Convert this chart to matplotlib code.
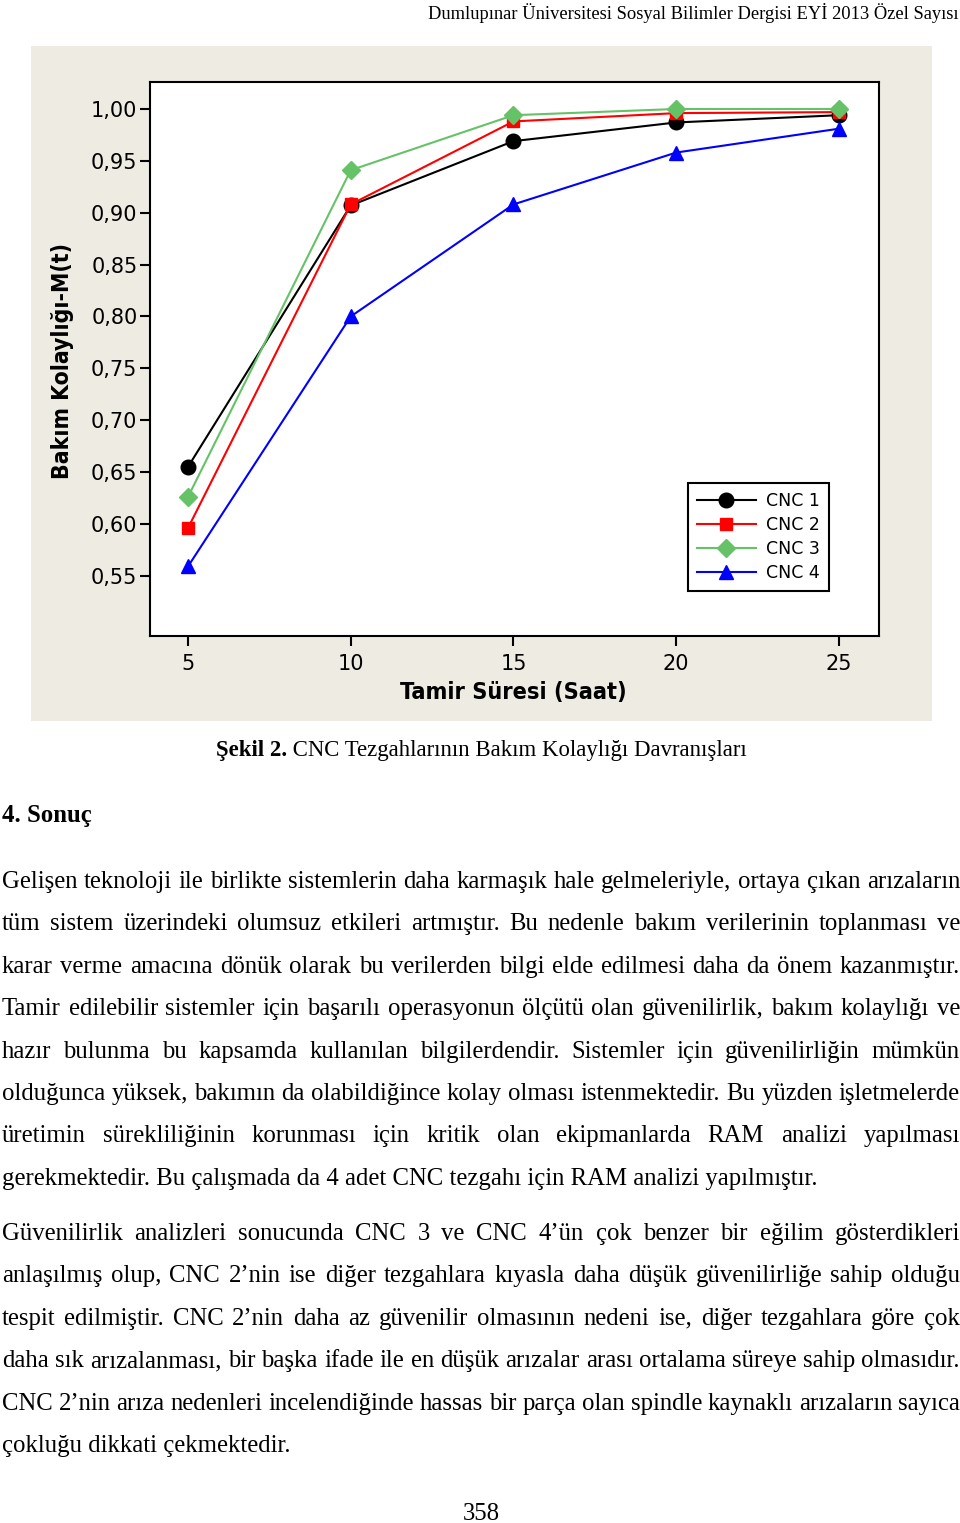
import matplotlib
matplotlib.use("Agg")
import matplotlib.pyplot as plt
from matplotlib.patches import Rectangle

# data
hours = [5, 10, 15, 20, 25]
cnc1 = [0.655, 0.907, 0.969, 0.987, 0.994]
cnc2 = [0.596, 0.908, 0.988, 0.996, 0.997]
cnc3 = [0.626, 0.941, 0.994, 1.000, 1.000]
cnc4 = [0.559, 0.800, 0.908, 0.958, 0.981]
series_names = ["CNC 1", "CNC 2", "CNC 3", "CNC 4"]
y_ticks = [0.55, 0.60, 0.65, 0.70, 0.75, 0.80, 0.85, 0.90, 0.95, 1.00]
x_ticks = [5, 10, 15, 20, 25]

header = "Dumlupınar Üniversitesi Sosyal Bilimler Dergisi EYİ 2013 Özel Sayısı"
caption_bold = "Şekil 2."
caption_rest = " CNC Tezgahlarının Bakım Kolaylığı Davranışları"
heading = "4. Sonuç"
para1 = [
    "Gelişen teknoloji ile birlikte sistemlerin daha karmaşık hale gelmeleriyle, ortaya çıkan arızaların",
    "tüm sistem üzerindeki olumsuz etkileri artmıştır. Bu nedenle bakım verilerinin toplanması ve",
    "karar verme amacına dönük olarak bu verilerden bilgi elde edilmesi daha da önem kazanmıştır.",
    "Tamir edilebilir sistemler için başarılı operasyonun ölçütü olan güvenilirlik, bakım kolaylığı ve",
    "hazır bulunma bu kapsamda kullanılan bilgilerdendir. Sistemler için güvenilirliğin mümkün",
    "olduğunca yüksek, bakımın da olabildiğince kolay olması istenmektedir. Bu yüzden işletmelerde",
    "üretimin sürekliliğinin korunması için kritik olan ekipmanlarda RAM analizi yapılması",
    "gerekmektedir. Bu çalışmada da 4 adet CNC tezgahı için RAM analizi yapılmıştır.",
]
para2 = [
    "Güvenilirlik analizleri sonucunda CNC 3 ve CNC 4’ün çok benzer bir eğilim gösterdikleri",
    "anlaşılmış olup, CNC 2’nin ise diğer tezgahlara kıyasla daha düşük güvenilirliğe sahip olduğu",
    "tespit edilmiştir. CNC 2’nin daha az güvenilir olmasının nedeni ise, diğer tezgahlara göre çok",
    "daha sık arızalanması, bir başka ifade ile en düşük arızalar arası ortalama süreye sahip olmasıdır.",
    "CNC 2’nin arıza nedenleri incelendiğinde hassas bir parça olan spindle kaynaklı arızaların sayıca",
    "çokluğu dikkati çekmektedir.",
]
page_no = "358"

W, H = 960, 1523
fig = plt.figure(figsize=(W / 100, H / 100), dpi=100)
fig.patch.set_facecolor("white")


def fx(x):
    return x / W


def fy(y):
    return 1 - y / H


# beige panel behind the chart
fig.add_artist(Rectangle((fx(31), fy(721)), fx(901), 675 / H,
                         transform=fig.transFigure, facecolor="#EEEBE2",
                         edgecolor="none", zorder=0))

ax = fig.add_axes([fx(150), fy(636), 729 / W, 554 / H])
ax.set_facecolor("white")

styles = [("black", "o", 10.5), ("#FF0000", "s", 9), ("#66C266", "D", 9), ("#0000FF", "^", 10.5)]
for vals, name, (c, m, ms) in zip([cnc1, cnc2, cnc3, cnc4], series_names, styles):
    ax.plot(hours, vals, color=c, marker=m, markersize=ms, linewidth=1.5, label=name)

ax.set_xlim(3.833, 26.23)
ax.set_ylim(0.492, 1.026)
ax.set_xticks(x_ticks)
ax.set_yticks(y_ticks)
ax.set_yticklabels([f"{v:.2f}".replace(".", ",") for v in y_ticks])
ax.tick_params(direction="out", length=7, width=1.5, labelsize=15, pad=2, colors="black")
ax.tick_params(axis="x", pad=6)
for s in ax.spines.values():
    s.set_linewidth(1.5)

leg = ax.legend(loc="lower right", bbox_to_anchor=(0.931, 0.081), fancybox=False,
                edgecolor="black", framealpha=1, fontsize=12.5, handlelength=3.4,
                labelspacing=0.36, borderpad=0.5, handletextpad=0.6, borderaxespad=0)
leg.get_frame().set_linewidth(1.5)

fig.text(fx(63), fy(361), "Bakım Kolaylığı-M(t)", rotation=90, ha="center", va="center",
         fontsize=16.5, fontweight="bold", fontstretch="condensed", family="DejaVu Sans")
fig.text(fx(513), fy(693), "Tamir Süresi (Saat)", ha="center", va="center",
         fontsize=16.8, fontweight="bold", fontstretch="condensed", family="DejaVu Sans")

serif = "Liberation Serif"
body_size = 17.8

fig.text(fx(959), fy(19), header, ha="right", va="baseline", fontsize=13.3, family=serif)

renderer = fig.canvas.get_renderer()


def width_of(t):
    return t.get_window_extent(renderer=renderer).width


# caption: bold part + regular part, centered around x=481
cap_size = 16.4
cb = fig.text(0, 0, caption_bold, fontsize=cap_size, family=serif, fontweight="bold", va="baseline")
cr = fig.text(0, 0, caption_rest, fontsize=cap_size, family=serif, va="baseline")
wb, wr = width_of(cb), width_of(cr)
x0 = 481 - (wb + wr) / 2
cb.set_position((fx(x0), fy(756)))
cr.set_position((fx(x0 + wb), fy(756)))

fig.text(fx(2), fy(822), heading, ha="left", va="baseline", fontsize=body_size,
         family=serif, fontweight="bold")


def draw_line(line, base_y, justify, left=2, right=960):
    if not justify:
        fig.text(fx(left), fy(base_y), line, ha="left", va="baseline", fontsize=body_size, family=serif)
        return
    words = line.split(" ")
    arts = [fig.text(0, fy(base_y), w, ha="left", va="baseline", fontsize=body_size, family=serif)
            for w in words]
    widths = [width_of(a) for a in arts]
    gap = (right - left - sum(widths)) / (len(words) - 1)
    x = left
    for a, w in zip(arts, widths):
        a.set_x(fx(x))
        x += w + gap


pitch = 42.4
for i, line in enumerate(para1):
    draw_line(line, 888 + pitch * i, i < len(para1) - 1)
for i, line in enumerate(para2):
    draw_line(line, 1240 + pitch * i, i < len(para2) - 1)

fig.text(fx(481), fy(1520), page_no, ha="center", va="baseline", fontsize=body_size, family=serif)

fig.savefig("out.png", dpi=100, facecolor="white")
